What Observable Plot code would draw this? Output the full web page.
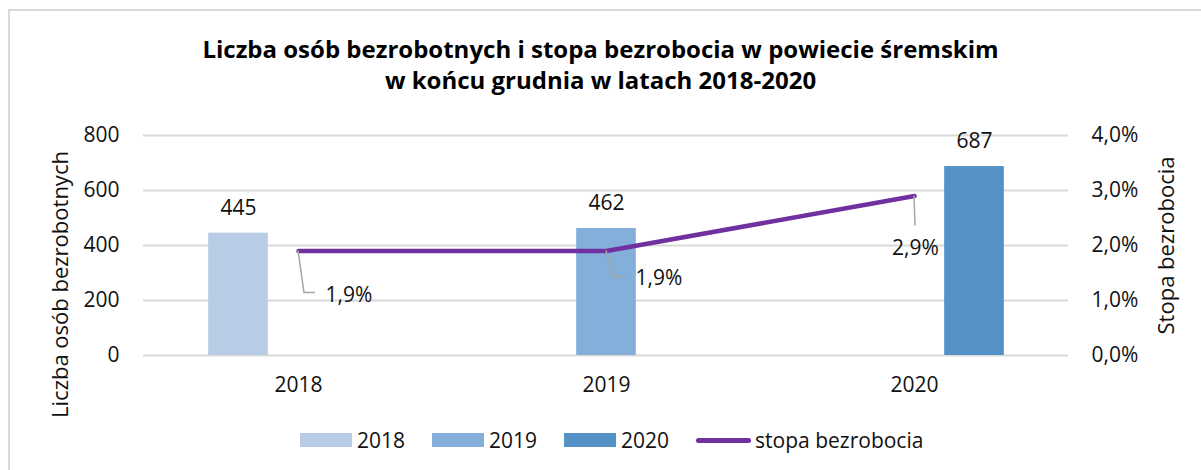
<!DOCTYPE html>
<html>
<head>
<meta charset="utf-8">
<script src="https://cdn.jsdelivr.net/npm/d3@7"></script>
<script src="https://cdn.jsdelivr.net/npm/@observablehq/plot@0.6"></script>
<style>
  html, body { margin: 0; padding: 0; background: #fff; overflow: hidden; }
  body { width: 1201px; height: 470px; position: relative; font-family: "Open Sans", sans-serif; color: #111; }
  #frame { position: absolute; left: 8px; top: 9px; width: 1400px; height: 700px; border-left: 2px solid #d9d9d9; border-top: 2px solid #d9d9d9; }
  #title { position: absolute; left: 0; top: 33px; width: 1201px; text-align: center; font-weight: 700; font-size: 24px; line-height: 31px; color: #000; }
  #chart { position: absolute; left: 0; top: 110px; }
  #legend { position: absolute; left: 300px; top: 425px; height: 30px; display: flex; align-items: center; font-size: 21px; }
  .item { display: flex; align-items: center; margin-right: 27px; }
  .sw { width: 52px; height: 14px; margin-right: 5px; }
  .ln { width: 55px; height: 5px; border-radius: 3px; margin-right: 4px; }
</style>
</head>
<body>
<div id="frame"></div>
<div id="title">Liczba osób bezrobotnych i stopa bezrobocia w powiecie śremskim<br>w końcu grudnia w latach 2018-2020</div>
<div id="chart"></div>
<div id="legend"></div>
<script>
// ---- data ----
const years = ["2018", "2019", "2020"];
const unemployed = [445, 462, 687];          // liczba osób bezrobotnych
const rate = [1.9, 1.9, 2.9];                 // stopa bezrobocia, %
const countTicks = [0, 200, 400, 600, 800];
const rateTicks = [0, 1, 2, 3, 4];            // %
const seriesNames = ["2018", "2019", "2020"];
const lineName = "stopa bezrobocia";

// ---- styles ----
const barColors = ["#b8cce6", "#84afdb", "#5491c6"];
const lineColor = "#7030a0";
const rateToCount = 800 / 4;                  // secondary axis 4% == primary 800
const slot = 60;                              // width of one clustered bar
const bandW = (1201 - 143 - 133) / years.length;
const inset = (bandW - slot) / 2;
const labelStyle = {
  "2018": {dx: 27, dy: 44, anchor: "start", leader: [[0, 0], [6, 42], [17, 42]]},
  "2019": {dx: 29, dy: 27, anchor: "start", leader: [[0, 0], [7, 26], [20, 26]]},
  "2020": {dx: 1, dy: 52, anchor: "middle", leader: [[0, 0], [1, 30]]}
};

const data = years.map((y, i) => ({year: y, count: unemployed[i], rate: rate[i], series: i}));
const fmtPct = v => v.toFixed(1).replace(".", ",") + "%";

const barMarks = [];
seriesNames.forEach((s, i) => {
  const d = data.filter(r => r.series === i);
  const dx = (i - 1) * slot;
  barMarks.push(Plot.barY(d, {x: "year", y: "count", fill: barColors[i], dx, insetLeft: inset, insetRight: inset}));
  barMarks.push(Plot.text(d, {x: "year", y: "count", text: r => String(r.count), dx, dy: -25, fill: "#111"}));
});

const rateLabelMarks = data.map(r => {
  const st = labelStyle[r.year];
  return Plot.text([r], {x: "year", y: q => q.rate * rateToCount, text: q => fmtPct(q.rate),
    dx: st.dx, dy: st.dy, textAnchor: st.anchor, fill: "#111"});
});

// leader lines from data points to their labels
const leaders = (index, scales) => {
  const g = d3.create("svg:g");
  const bw = scales.x.bandwidth ? scales.x.bandwidth() / 2 : 0;
  data.forEach(r => {
    const cx = scales.x(r.year) + bw;
    const cy = scales.y(r.rate * rateToCount);
    const pts = labelStyle[r.year].leader.map(([a, b]) => [cx + a, cy + b]);
    g.append("path").attr("d", d3.line()(pts)).attr("fill", "none")
      .attr("stroke", "#a6a6a6").attr("stroke-width", 1.5);
  });
  return g.node();
};

const chart = Plot.plot({
  width: 1201,
  height: 300,
  marginTop: 25,
  marginBottom: 55,
  marginLeft: 143,
  marginRight: 133,
  style: {fontFamily: "Open Sans", fontSize: "21px", color: "#111", background: "transparent", overflow: "visible"},
  x: {domain: years, padding: 0},
  y: {domain: [0, 800]},
  marks: [
    Plot.gridY(countTicks, {stroke: "#d9d9d9", strokeOpacity: 1, strokeWidth: 2}),
    ...barMarks,
    Plot.line(data, {x: "year", y: r => r.rate * rateToCount, stroke: lineColor, strokeWidth: 4.5, strokeLinecap: "round", strokeLinejoin: "round"}),
    leaders,
    ...rateLabelMarks,
    Plot.axisX({tickSize: 0, tickPadding: 22, label: null}),
    Plot.axisY({ticks: countTicks, tickSize: 0, tickPadding: 24, label: null, tickFormat: d => String(d)}),
    Plot.axisY({anchor: "right", ticks: rateTicks.map(t => t * rateToCount), tickSize: 0, tickPadding: 23, label: null,
      tickFormat: d => fmtPct(d / rateToCount)}),
    Plot.text(["Liczba osób bezrobotnych"], {frameAnchor: "left", textAnchor: "middle", rotate: -90, dx: -83, dy: 39, fontSize: 22, fill: "#111"}),
    Plot.text(["Stopa bezrobocia"], {frameAnchor: "right", textAnchor: "middle", rotate: -90, dx: 98, fontSize: 22, fill: "#111"})
  ]
});
document.getElementById("chart").appendChild(chart);

// legend
const legend = document.getElementById("legend");
seriesNames.forEach((s, i) => {
  const it = document.createElement("div"); it.className = "item";
  it.innerHTML = `<div class="sw" style="background:${barColors[i]}"></div><span>${s}</span>`;
  legend.appendChild(it);
});
const it = document.createElement("div"); it.className = "item";
it.innerHTML = `<div class="ln" style="background:${lineColor}"></div><span>${lineName}</span>`;
legend.appendChild(it);
</script>
</body>
</html>
